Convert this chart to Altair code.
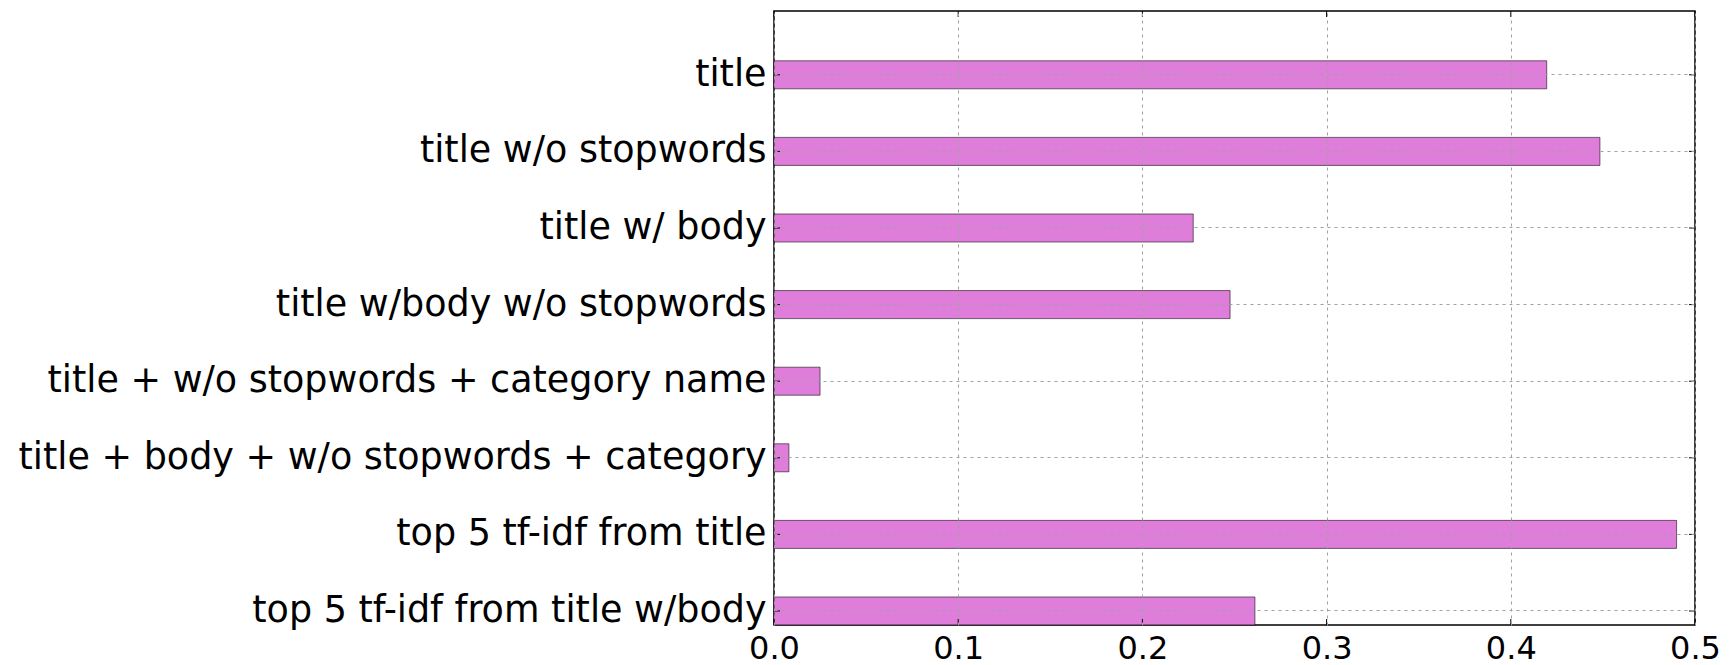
import altair as alt
import pandas as pd

categories = [
    "title",
    "title w/o stopwords",
    "title w/ body",
    "title w/body w/o stopwords",
    "title + w/o stopwords + category name",
    "title + body + w/o stopwords + category",
    "top 5 tf-idf from title",
    "top 5 tf-idf from title w/body",
]
values = [0.4195, 0.4484, 0.2276, 0.2476, 0.0250, 0.0081, 0.4900, 0.2611]
xticks = [0.0, 0.1, 0.2, 0.3, 0.4, 0.5]

W, H = 921, 614
df = pd.DataFrame({"name": categories, "value": values})
tdf = pd.DataFrame({"t": xticks})

yscale = alt.Scale(domain=categories, paddingInner=0.634, paddingOuter=0.325, align=1)
xscale = alt.Scale(domain=[0, 0.5], nice=False, zero=True)

grid_axis_x = alt.Axis(
    values=xticks, format=".1f", grid=True, gridColor="#a0a0a0", gridDash=[3, 4],
    gridWidth=1, domain=False, ticks=False, labelFont="DejaVu Sans", labelFontSize=32,
    labelColor="black", labelPadding=33, labelBaseline="alphabetic", title=None,
    zindex=1, labelFlush=False,
)
grid_axis_y = alt.Axis(
    grid=True, gridColor="#a0a0a0", gridDash=[3, 4], gridWidth=1, bandPosition=0.5,
    domain=False, ticks=False, labelFont="DejaVu Sans", labelFontSize=36.5,
    labelColor="black", labelPadding=8, title=None, zindex=1, labelLimit=1000,
)

bars = alt.Chart(df).mark_bar(
    fill="#DA70D6", fillOpacity=0.9, stroke="black", strokeOpacity=0.55, strokeWidth=1
).encode(
    x=alt.X("value:Q", scale=xscale, axis=grid_axis_x),
    y=alt.Y("name:N", scale=yscale, sort=categories, axis=grid_axis_y),
)

tick_style = dict(color="black", strokeWidth=1)
xt_bottom = alt.Chart(tdf).mark_rule(**tick_style).encode(
    x=alt.X("t:Q", scale=xscale, axis=grid_axis_x), y=alt.value(H), y2=alt.value(H - 6)
)
xt_top = alt.Chart(tdf).mark_rule(**tick_style).encode(
    x=alt.X("t:Q", scale=xscale, axis=grid_axis_x), y=alt.value(0), y2=alt.value(6)
)
yt_left = alt.Chart(df).mark_rule(**tick_style).encode(
    y=alt.Y("name:N", scale=yscale, sort=categories, axis=grid_axis_y), x=alt.value(0), x2=alt.value(6)
)
yt_right = alt.Chart(df).mark_rule(**tick_style).encode(
    y=alt.Y("name:N", scale=yscale, sort=categories, axis=grid_axis_y), x=alt.value(W), x2=alt.value(W - 6)
)

chart = alt.layer(bars, xt_bottom, xt_top, yt_left, yt_right).properties(
    width=W, height=H,
    background="white",
    autosize=alt.AutoSizeParams(type="none"),
    padding={"left": 766, "top": 3, "right": 26, "bottom": 40},
).configure_view(stroke="black", strokeWidth=1.5)

chart.save("out.html", embed_options={"renderer": "svg", "actions": False})
